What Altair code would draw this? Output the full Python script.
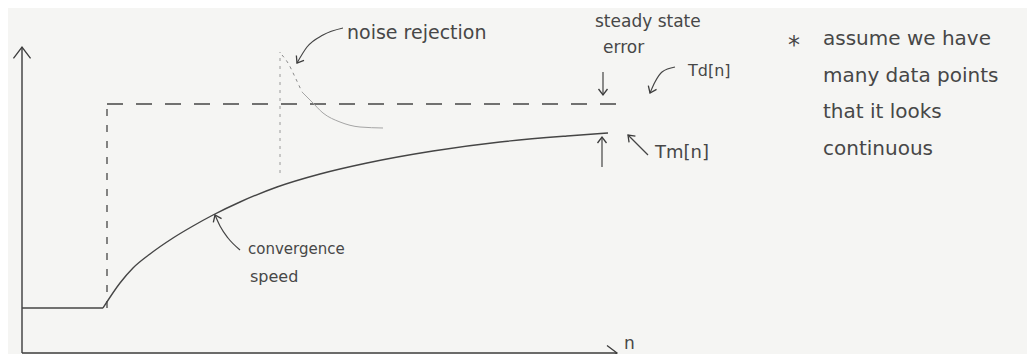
import altair as alt
import pandas as pd

# ---------------- data ----------------
# measured response Tm[n]: flat start, then rising curve
tm_flat_n = [0, 8.1]
tm_flat_v = [4.5, 4.5]
tm_n = [8.1, 9.8, 11.1, 12.8, 15.1, 17.1, 19.1, 21.8, 25.5, 29.8, 34.5, 41.1, 47.8, 54.5, 58.6]
tm_v = [4.5, 7.0, 8.5, 9.9, 11.5, 12.7, 13.8, 15.1, 16.6, 17.9, 19.0, 20.2, 21.1, 21.7, 22.0]

# desired setpoint Td[n] (step)
td_step_n = [8.5, 8.5]
td_step_v = [4.5, 24.9]
td_flat_n = [8.5, 59.6]
td_flat_v = [24.9, 24.9]

# disturbance (noise) response sketch
noise_dot_n = [26.0, 26.6, 27.3, 28.0]
noise_dot_v = [29.8, 29.0, 27.6, 26.1]
noise_n = [28.0, 29.0, 30.1, 31.8, 33.8, 36.1]
noise_v = [26.1, 25.1, 24.0, 23.1, 22.6, 22.5]
noise_mark_n = [25.8, 25.8]
noise_mark_v = [18.0, 30.1]

# axes
axis_seg = ["y", "y", "x", "x"]
axis_n = [0, 0, 0, 59.5]
axis_v = [0, 30.6, 0, 0]

# annotation arrow shafts
arrow_seg = ["sse_dn", "sse_dn", "sse_up", "sse_up",
             "td", "td", "td", "td",
             "tm", "tm",
             "conv", "conv", "conv", "conv",
             "noise", "noise", "noise", "noise"]
arrow_n = [58.1, 58.1, 58.0, 58.0,
           65.3, 64.0, 63.3, 62.8,
           62.6, 60.6,
           21.8, 20.6, 19.8, 19.3,
           32.1, 30.1, 28.5, 27.5]
arrow_v = [28.1, 25.8, 18.6, 21.6,
           28.6, 28.1, 27.1, 26.0,
           19.8, 21.8,
           10.3, 11.5, 12.7, 13.8,
           32.5, 31.8, 30.6, 29.0]

# arrow heads (tip position, direction in degrees, size)
head_n = [0, 59.5, 58.1, 58.0, 62.8, 60.6, 19.3, 27.5]
head_v = [30.6, 0, 25.8, 21.6, 26.0, 21.8, 13.8, 29.0]
head_a = [0, 90, 180, 0, 204, 315, 336, 212]
head_s = [520, 400, 144, 144, 144, 144, 144, 144]

# labels
label_text = ["noise rejection", "steady state", "error", "Td[n]", "Tm[n]",
              "convergence", "speed", "n", "*",
              "assume we have", "many data points", "that it looks", "continuous"]
label_n = [32.5, 57.3, 58.1, 66.6, 63.3, 22.6, 22.8, 60.2, 76.6, 80.1, 80.1, 80.1, 80.1]
label_v = [31.4, 32.6, 30.0, 27.7, 19.5, 9.9, 7.1, 0.45, 30.0, 30.8, 27.1, 23.5, 19.8]
label_s = [19, 17, 17, 16, 18, 15, 16, 17, 24, 20, 20, 20, 20]

# ---------------- chart ----------------
XS = alt.Scale(domain=[0, 100.5], nice=False, zero=False)
YS = alt.Scale(domain=[0, 34.5], nice=False, zero=False)
INK = "#3c3c3c"


def xy():
    return dict(x=alt.X("n:Q", scale=XS, axis=None), y=alt.Y("v:Q", scale=YS, axis=None))


def seg_df(n, v, seg=None):
    d = pd.DataFrame({"n": n, "v": v})
    d["i"] = range(len(d))
    d["seg"] = seg if seg is not None else "a"
    return d


axes = alt.Chart(seg_df(axis_n, axis_v, axis_seg)).mark_line(
    color=INK, strokeWidth=1.4).encode(**xy(), detail="seg:N", order="i:Q")

tm_flat = alt.Chart(seg_df(tm_flat_n, tm_flat_v)).mark_line(
    color="#454545", strokeWidth=1.4).encode(**xy(), order="i:Q")
tm = alt.Chart(seg_df(tm_n, tm_v)).mark_line(
    color="#454545", strokeWidth=1.4, interpolate="monotone").encode(**xy(), order="i:Q")

td_step = alt.Chart(seg_df(td_step_n, td_step_v)).mark_line(
    color="#454545", strokeWidth=1.3, strokeDash=[7, 9]).encode(**xy(), order="i:Q")
td_flat = alt.Chart(seg_df(td_flat_n, td_flat_v)).mark_line(
    color="#454545", strokeWidth=1.3, strokeDash=[16, 13]).encode(**xy(), order="i:Q")

noise_mark = alt.Chart(seg_df(noise_mark_n, noise_mark_v)).mark_line(
    color="#9a9a9a", strokeWidth=1.0, strokeDash=[3, 5]).encode(**xy(), order="i:Q")
noise_dot = alt.Chart(seg_df(noise_dot_n, noise_dot_v)).mark_line(
    color="#8a8a8a", strokeWidth=1.0, strokeDash=[3, 4], interpolate="monotone").encode(**xy(), order="i:Q")
noise = alt.Chart(seg_df(noise_n, noise_v)).mark_line(
    color="#a5a5a5", strokeWidth=1.0, interpolate="monotone").encode(**xy(), order="i:Q")

arrows = alt.Chart(seg_df(arrow_n, arrow_v, arrow_seg)).mark_line(
    color="#444444", strokeWidth=1.2, interpolate="monotone").encode(**xy(), detail="seg:N", order="i:Q")

heads = alt.Chart(pd.DataFrame({"n": head_n, "v": head_v, "a": head_a, "s": head_s})).mark_point(
    shape="M-0.75,1L0,0L0.75,1", filled=False, color=INK, strokeWidth=1.3, opacity=1
).encode(**xy(), angle=alt.Angle("a:Q", scale=None), size=alt.Size("s:Q", scale=None))

labels = alt.Chart(pd.DataFrame({"n": label_n, "v": label_v, "t": label_text, "s": label_s})).mark_text(
    align="left", baseline="alphabetic", font="DejaVu Sans", color="#474747"
).encode(**xy(), text="t:N", size=alt.Size("s:Q", scale=None))

chart = alt.layer(axes, td_step, td_flat, noise_mark, noise_dot, noise, tm_flat, tm, arrows, heads, labels).properties(
    width=1005, height=345,
    padding={"left": 14, "top": 0, "right": 0, "bottom": 1},
    autosize="none",
    background="#f5f5f3",
).configure_view(stroke=None)

chart.save("out.html", embed_options={"renderer": "svg", "actions": False})
